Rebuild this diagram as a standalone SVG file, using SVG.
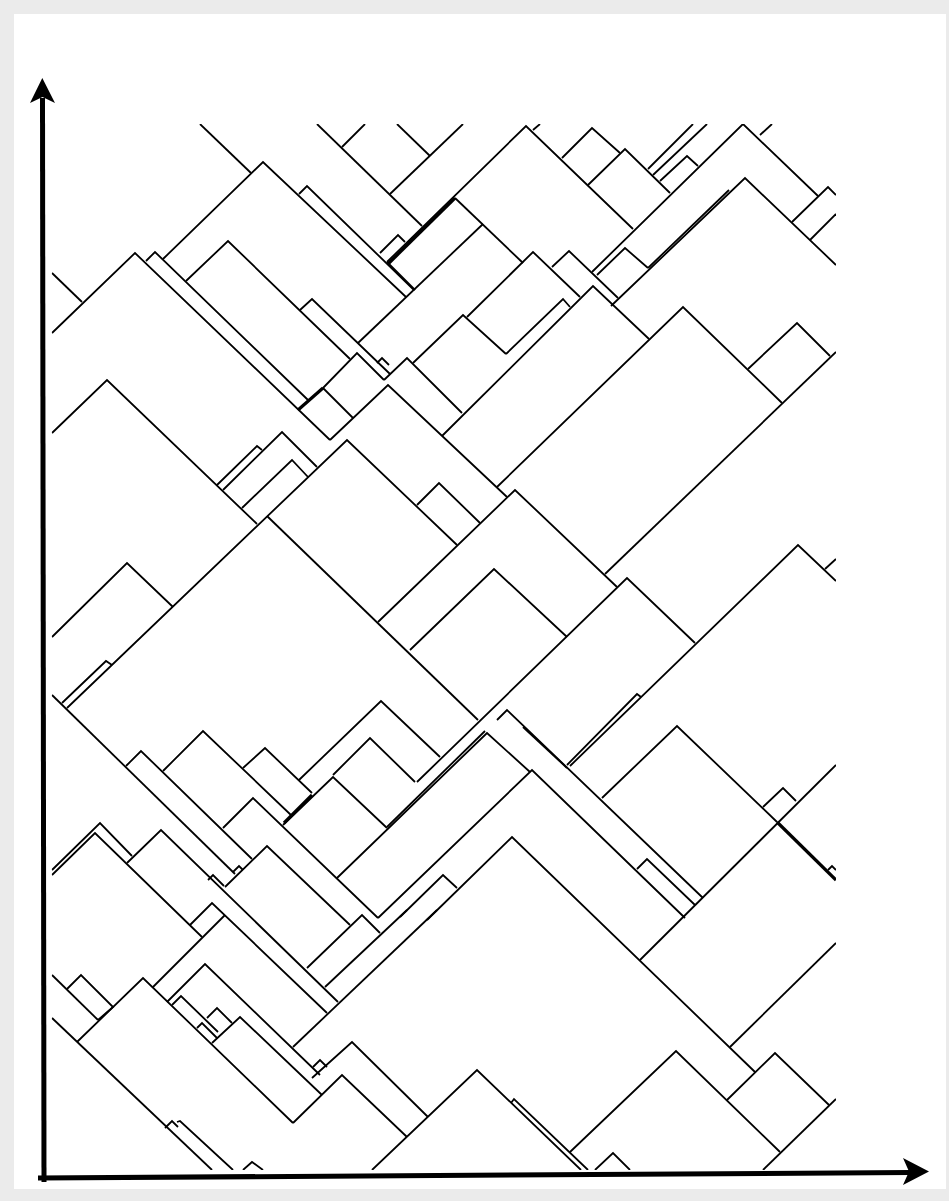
<svg xmlns="http://www.w3.org/2000/svg" width="949" height="1201" viewBox="0 0 949 1201">
<defs>
<style>
.l{fill:none;stroke:#000;stroke-width:1.8;stroke-linejoin:miter;stroke-linecap:butt}
.t{fill:none;stroke:#000;stroke-width:3.2}
.ax{fill:none;stroke:#000;stroke-width:5}
</style>
<clipPath id="c"><rect x="51.7" y="124" width="784.3" height="1046"/></clipPath>
</defs>
<rect x="0" y="0" width="949" height="1201" fill="#ebebeb"/>
<rect x="14" y="14" width="932" height="1175" fill="#ffffff"/>
<g id="shapes" clip-path="url(#c)">
<polyline class="l" points="200,124 251,173"/>
<polyline class="l" points="163,259 263,162 406,297"/>
<polyline class="l" points="299,194 307,186 414,290"/>
<polyline class="l" points="52,333 135,253 330,440"/>
<polyline class="l" points="52,273 82,302"/>
<polyline class="l" points="146,261 155,252 308,400"/>
<polyline class="l" points="186,281 228,241 350,359"/>
<polyline class="l" points="300,310 312,299 390,374"/>
<polyline class="l" points="317,124 422,226"/>
<polyline class="l" points="342,147 365,124"/>
<polyline class="l" points="397,124 430,156"/>
<polyline class="l" points="390,194 463,124"/>
<polyline class="l" points="387,262 526,126 633,229"/>
<polyline class="t" points="388,264 455,198"/>
<polyline class="l" points="455,198 523,263"/>
<polyline class="l" points="533,130 540,124"/>
<polyline class="l" points="358,343 483,224"/>
<polyline class="l" points="467,317 533,252 580,297"/>
<polyline class="l" points="552,267 569,251 618,298"/>
<polyline class="l" points="380,253 398,235 405,242"/>
<polyline class="l" points="387,262 415,290"/>
<polyline class="l" points="298,410 323,388 357,353 384,380"/>
<polyline class="t" points="298,410 323,388"/>
<polyline class="l" points="377,363 382,358 389,365"/>
<polyline class="l" points="413,363 463,315 506,354"/>
<polyline class="l" points="506,354 563,299 570,307"/>
<polyline class="l" points="442,436 593,286 649,339"/>
<polyline class="l" points="562,158 592,128 620,153"/>
<polyline class="l" points="588,185 625,149 670,193"/>
<polyline class="l" points="592,272 743,124 818,196"/>
<polyline class="l" points="760,135 772,124"/>
<polyline class="l" points="648,169 693,124"/>
<polyline class="l" points="653,175 707,124"/>
<polyline class="l" points="660,181 687,156 698,166"/>
<polyline class="l" points="611,306 745,178 836,265"/>
<polyline class="l" points="648,268 729,190"/>
<polyline class="l" points="597,275 625,248 648,268"/>
<polyline class="l" points="497,487 683,307 782,403"/>
<polyline class="l" points="748,369 797,323 830,356"/>
<polyline class="l" points="605,574 836,352"/>
<polyline class="l" points="792,222 828,187 836,195"/>
<polyline class="l" points="810,240 836,214"/>
<polyline class="l" points="52,433 107,380 257,524"/>
<polyline class="l" points="217,485 257,446 262,450"/>
<polyline class="l" points="223,490 282,432 317,467"/>
<polyline class="l" points="242,508 292,460 308,477"/>
<polyline class="l" points="67,708 347,440 457,545"/>
<polyline class="l" points="267,516 478,720"/>
<polyline class="l" points="52,637 127,563 173,607"/>
<polyline class="l" points="323,388 353,418"/>
<polyline class="l" points="330,440 388,385 507,497"/>
<polyline class="l" points="384,380 407,358 462,413"/>
<polyline class="l" points="417,505 439,483 480,523"/>
<polyline class="l" points="378,622 515,490 617,587"/>
<polyline class="l" points="410,650 494,569 567,637"/>
<polyline class="l" points="417,782 627,578 695,643"/>
<polyline class="l" points="570,766 798,545 836,581"/>
<polyline class="l" points="825,569 836,559"/>
<polyline class="l" points="62,703 106,661 112,665"/>
<polyline class="l" points="52,695 235,874"/>
<polyline class="l" points="126,766 141,751 252,859"/>
<polyline class="l" points="163,771 203,731 292,816"/>
<polyline class="l" points="283,825 333,777 387,828"/>
<polyline class="t" points="284,823 312,795"/>
<polyline class="l" points="243,768 265,748 312,793"/>
<polyline class="l" points="223,828 253,798 378,918"/>
<polyline class="l" points="225,887 267,846 350,925"/>
<polyline class="l" points="233,872 239,866 243,870"/>
<polyline class="l" points="208,880 213,875 224,886"/>
<polyline class="l" points="52,870 100,823 132,856"/>
<polyline class="l" points="52,875 95,833 202,937"/>
<polyline class="l" points="127,863 161,830 338,1002"/>
<polyline class="l" points="190,925 212,903 327,1013"/>
<polyline class="l" points="153,987 225,915"/>
<polyline class="l" points="167,1002 205,964 320,1075"/>
<polyline class="l" points="293,1047 437,910"/>
<polyline class="l" points="172,1005 181,996 218,1032"/>
<polyline class="l" points="207,1018 217,1008 232,1023"/>
<polyline class="l" points="197,1028 202,1023 217,1038"/>
<polyline class="l" points="212,1043 240,1017 322,1095"/>
<polyline class="l" points="67,989 81,975 113,1007 98,1020"/>
<polyline class="l" points="52,975 98,1020"/>
<polyline class="l" points="77,1042 143,978 293,1123"/>
<polyline class="l" points="52,1018 212,1170"/>
<polyline class="l" points="165,1128 172,1121 178,1127"/>
<polyline class="l" points="177,1122 180,1121 233,1170"/>
<polyline class="l" points="243,1170 252,1162 263,1170"/>
<polyline class="l" points="307,968 362,915 380,933"/>
<polyline class="l" points="325,987 407,910"/>
<polyline class="l" points="312,1078 352,1042 428,1117"/>
<polyline class="l" points="313,1067 320,1060 327,1067"/>
<polyline class="l" points="293,1123 342,1075 407,1137"/>
<polyline class="l" points="372,1170 477,1070 581,1170"/>
<polyline class="l" points="511,1103 514,1099 588,1170"/>
<polyline class="l" points="640,960 836,765"/>
<polyline class="l" points="730,1047 836,943"/>
<polyline class="l" points="727,1100 775,1053 829,1105"/>
<polyline class="l" points="570,1152 676,1051 780,1152"/>
<polyline class="l" points="763,1170 836,1099"/>
<polyline class="l" points="595,1170 613,1153 630,1170"/>
<polyline class="l" points="567,765 637,694 641,697"/>
<polyline class="l" points="378,918 532,770 685,918"/>
<polyline class="l" points="602,798 677,726 777,822"/>
<polyline class="l" points="763,807 783,788 796,801"/>
<polyline class="t" points="777,822 836,880"/>
<polyline class="l" points="828,870 832,866 836,870"/>
<polyline class="l" points="637,869 647,859 695,905"/>
<polyline class="l" points="299,780 381,701 440,757"/>
<polyline class="l" points="333,775 370,738 415,782"/>
<polyline class="l" points="337,878 487,733 530,772"/>
<polyline class="l" points="387,827 485,731"/>
<polyline class="l" points="497,720 507,710 703,898"/>
<polyline class="l" points="523,727 567,768"/>
<polyline class="l" points="427,920 512,837 755,1072"/>
<polyline class="l" points="400,917 443,875 457,888"/>
</g>
<g id="axes">
<line class="ax" x1="44" y1="1182" x2="42.5" y2="98"/>
<path d="M42.3,78 L55,103 L42.5,97 L30,103 Z" fill="#000"/>
<line class="ax" x1="38" y1="1178" x2="910" y2="1172.5"/>
<path d="M929,1171.5 L903,1158 L909,1171.5 L903,1185 Z" fill="#000"/>
</g>
</svg>
